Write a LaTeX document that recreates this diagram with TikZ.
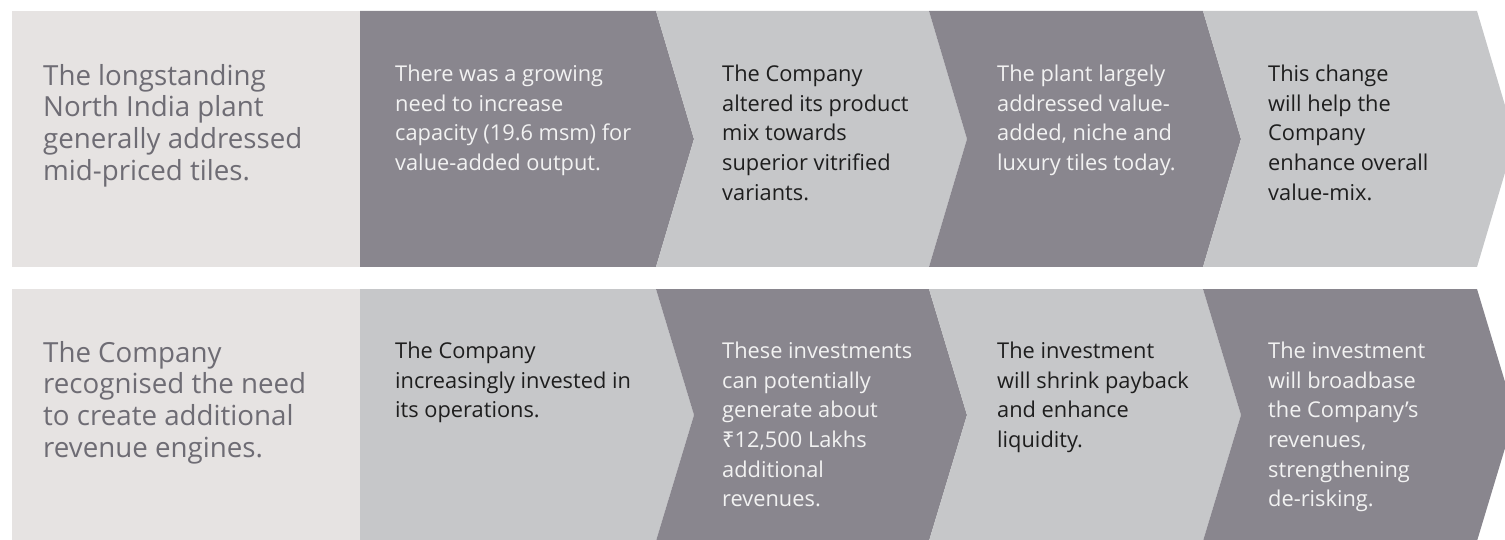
\documentclass[tikz,border=0pt]{standalone}
\usepackage{fontspec}
\setmainfont{Open Sans}
\newfontfamily\rupeefont{Noto Sans}
\definecolor{paper}{HTML}{E6E3E2}
\definecolor{slate}{HTML}{89868E}
\definecolor{silver}{HTML}{C6C7C9}
\definecolor{leadtext}{HTML}{6E6C74}
\definecolor{darktext}{HTML}{1E1E1E}
\definecolor{lighttext}{HTML}{F2F2F2}
\tikzset{
  lead/.style={anchor=north west, inner sep=0pt, align=left, text=leadtext,
    font=\fontsize{27.7}{31.7}\selectfont},
  onslate/.style={anchor=north west, inner sep=0pt, align=left, text=lighttext,
    font=\fontsize{21.8}{29.6}\selectfont},
  onsilver/.style={onslate, text=darktext},
}

\begin{document}
\begin{tikzpicture}[x=1pt, y=-1pt]
  \useasboundingbox (0,0) rectangle (1505,540);
  \clip (0,0) rectangle (1505,540);

  % top row: plain panel, then four chevrons
  \fill[paper] (12,11) rectangle (360,267);
  \fill[slate] (360,11) -- (656,11) -- (694,139) -- (656,267) -- (360,267) -- cycle;
  \foreach \l/\r/\c in {656/929/silver, 929/1203/slate, 1203/1477/silver}
    \fill[\c] (\l,11) -- (\r,11) -- (\r+38,139) -- (\r,267) -- (\l,267) -- (\l+38,139) -- cycle;

  % bottom row, colours swapped
  \fill[paper] (12,289) rectangle (360,541);
  \fill[silver] (360,289) -- (656,289) -- (694,415) -- (656,541) -- (360,541) -- cycle;
  \foreach \l/\r/\c in {656/929/slate, 929/1203/silver, 1203/1477/slate}
    \fill[\c] (\l,289) -- (\r,289) -- (\r+38,415) -- (\r,541) -- (\l,541) -- (\l+38,415) -- cycle;

  % texts, top row
  \node[lead] (plant) at (43,64) {The longstanding\\North India plant\\generally addressed\\mid-priced tiles.};
  \node[onslate] (need) at (395,65) {There was a growing\\need to increase\\capacity (19.6 msm) for\\value-added output.};
  \node[onsilver] (mix) at (722,65) {The Company\\altered its product\\mix towards\\superior vitrified\\variants.};
  \node[onslate] (today) at (997,65) {The plant largely\\addressed value-\\added, niche and\\luxury tiles today.};
  \node[onsilver] (change) at (1268,65) {This change\\will help the\\Company\\enhance overall\\value-mix.};

  % texts, bottom row
  \node[lead] (engines) at (43,341) {The Company\\recognised the need\\to create additional\\revenue engines.};
  \node[onsilver] (invest) at (395,342) {The Company\\increasingly invested in\\its operations.};
  \node[onslate] (lakhs) at (722,342) {These investments\\can potentially\\generate about\\{\rupeefont ₹}12,500 Lakhs\\additional\\revenues.};
  \node[onsilver] (payback) at (997,342) {The investment\\will shrink payback\\and enhance\\liquidity.};
  \node[onslate] (derisk) at (1268,342) {The investment\\will broadbase\\the Company’s\\revenues,\\strengthening\\de-risking.};
\end{tikzpicture}
\end{document}
